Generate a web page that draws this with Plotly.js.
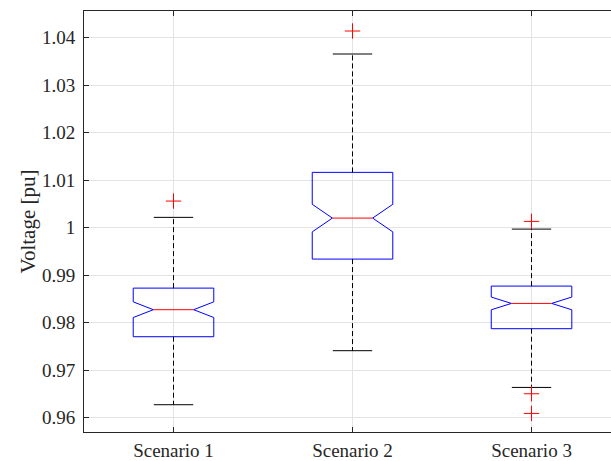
<!DOCTYPE html>
<html>
<head>
<meta charset="utf-8">
<script src="https://cdn.plot.ly/plotly-3.0.1.min.js"></script>
<style>html,body{margin:0;padding:0;background:#fff;}#chart{width:611px;height:461px;}</style>
</head>
<body>
<div id="chart"></div>
<script>
// ---- data ----
const categories = ['Scenario 1', 'Scenario 2', 'Scenario 3'];
const positions = [1, 2, 3];
const q1Vals = [0.97705, 0.99339, 0.97874];
const medianVals = [0.98274, 1.00202, 0.98406];
const q3Vals = [0.98728, 1.01164, 0.98771];
const lowerWhisker = [0.96274, 0.97411, 0.96638];
const upperWhisker = [1.00217, 1.03655, 0.99970];
const notchSpans = [0.00165, 0.00290, 0.00134];
const outlierX = [1, 2, 3, 3, 3];
const outlierY = [1.00560, 1.04139, 1.00133, 0.96505, 0.96091];
const yTickVals = [0.96, 0.97, 0.98, 0.99, 1.00, 1.01, 1.02, 1.03, 1.04];
const yTickText = ['0.96', '0.97', '0.98', '0.99', '1', '1.01', '1.02', '1.03', '1.04'];

// ---- styling ----
const BOX_HALF = 0.225;
const WAIST_HALF = 0.1125;
const CAP_HALF = 0.11;
const FONT = 'Liberation Serif, Times New Roman, serif';
const AXIS_COLOR = '#262626';

const traces = [];

positions.forEach((p, i) => {
  const lo = medianVals[i] - notchSpans[i];
  const hi = medianVals[i] + notchSpans[i];
  // notched box outline (blue), built from the quartiles and notch span
  traces.push({
    type: 'scatter', mode: 'lines',
    x: [p - WAIST_HALF, p - BOX_HALF, p - BOX_HALF, p + BOX_HALF, p + BOX_HALF, p + WAIST_HALF, null,
        p - WAIST_HALF, p - BOX_HALF, p - BOX_HALF, p + BOX_HALF, p + BOX_HALF, p + WAIST_HALF],
    y: [medianVals[i], hi, q3Vals[i], q3Vals[i], hi, medianVals[i], null,
        medianVals[i], lo, q1Vals[i], q1Vals[i], lo, medianVals[i]],
    line: {color: '#0000ff', width: 1},
    hoverinfo: 'skip', showlegend: false
  });
  // whiskers (dashed black)
  traces.push({
    type: 'scatter', mode: 'lines',
    x: [p, p, null, p, p],
    y: [q3Vals[i], upperWhisker[i], null, q1Vals[i], lowerWhisker[i]],
    line: {color: '#000000', width: 1, dash: '5px,3px'},
    hoverinfo: 'skip', showlegend: false
  });
  // whisker caps
  traces.push({
    type: 'scatter', mode: 'lines',
    x: [p - CAP_HALF, p + CAP_HALF, null, p - CAP_HALF, p + CAP_HALF],
    y: [upperWhisker[i], upperWhisker[i], null, lowerWhisker[i], lowerWhisker[i]],
    line: {color: '#000000', width: 1},
    hoverinfo: 'skip', showlegend: false
  });
  // median (red)
  traces.push({
    type: 'scatter', mode: 'lines',
    x: [p - WAIST_HALF, p + WAIST_HALF],
    y: [medianVals[i], medianVals[i]],
    line: {color: '#ff0000', width: 1},
    hoverinfo: 'skip', showlegend: false
  });
});

traces.push({
  type: 'scatter', mode: 'markers',
  x: outlierX, y: outlierY,
  marker: {symbol: 'cross-thin', size: 11, color: '#ff0000', line: {color: '#ff0000', width: 1}},
  hoverinfo: 'skip', showlegend: false
});

const layout = {
  width: 611, height: 461,
  margin: {l: 84, r: 0, t: 11, b: 29, pad: 0},
  paper_bgcolor: '#ffffff', plot_bgcolor: '#ffffff',
  font: {family: FONT, size: 19, color: AXIS_COLOR},
  showlegend: false,
  xaxis: {
    range: [0.5, 3.444],
    tickmode: 'array', tickvals: positions, ticktext: categories,
    showgrid: true, gridcolor: '#e3e3e3', gridwidth: 1,
    zeroline: false,
    showline: true, linecolor: AXIS_COLOR, linewidth: 1, mirror: 'ticks',
    ticks: 'inside', ticklen: 5, tickcolor: AXIS_COLOR,
    ticklabelstandoff: 1,
    tickfont: {family: FONT, size: 19, color: AXIS_COLOR}
  },
  yaxis: {
    range: [0.957, 1.0456],
    tickmode: 'array', tickvals: yTickVals, ticktext: yTickText,
    showgrid: true, gridcolor: '#e3e3e3', gridwidth: 1,
    zeroline: false,
    showline: true, linecolor: AXIS_COLOR, linewidth: 1, mirror: false,
    ticks: 'inside', ticklen: 5, tickcolor: AXIS_COLOR,
    ticklabelstandoff: 4,
    tickfont: {family: FONT, size: 19, color: AXIS_COLOR},
    title: {text: 'Voltage [pu]', font: {family: FONT, size: 21, color: AXIS_COLOR}, standoff: 0}
  }
};

Plotly.newPlot('chart', traces, layout, {staticPlot: true, displayModeBar: false});
</script>
</body>
</html>
